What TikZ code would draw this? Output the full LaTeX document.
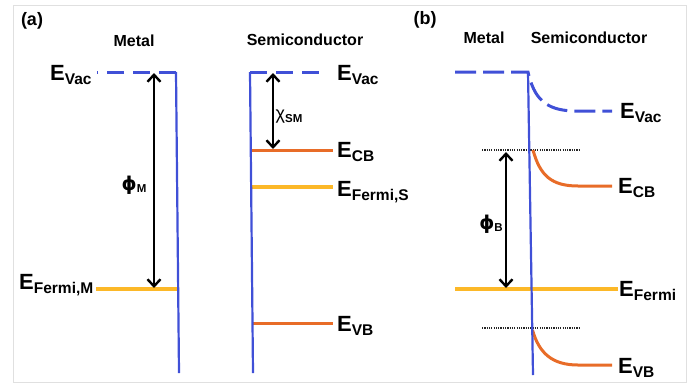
\documentclass[tikz,border=0pt]{standalone}
\usepackage{fontspec}
\setmainfont{Liberation Sans}
\newfontfamily\djv{DejaVu Sans}
\usetikzlibrary{arrows.meta}
\definecolor{vblue}{RGB}{64,80,215}
\definecolor{cbor}{RGB}{232,108,40}
\definecolor{fyel}{RGB}{252,184,40}
\newcommand{\EL}[1]{{\fontsize{22}{22}\selectfont\bfseries E}\raisebox{-4pt}{\fontsize{15.5}{16}\selectfont\bfseries #1}}
\newcommand{\GL}[2]{{\djv\bfseries\fontsize{19}{19}\selectfont #1}\raisebox{-2.5pt}{\fontsize{11.5}{12}\selectfont\bfseries #2}}
\begin{document}
\begin{tikzpicture}[x=1pt,y=-1pt,
  vline/.style={draw=vblue,line width=2.2pt},
  vacline/.style={draw=vblue,line width=3pt,dash pattern=on 17pt off 9pt},
  vacb/.style={draw=vblue,line width=3pt,dash pattern=on 21pt off 7pt},
  cbline/.style={draw=cbor,line width=3pt},
  fline/.style={draw=fyel,line width=3.2pt},
  dotline/.style={draw=black!85,line width=1.8pt,dash pattern=on 1.2pt off 1.1pt},
  dimarrow/.style={draw=black,line width=2.4pt,{Straight Barb[length=7pt,width=13pt]}-{Straight Barb[length=7pt,width=13pt]}},
  elab/.style={anchor=base west,inner sep=0pt},
  head/.style={font=\bfseries\fontsize{16}{16}\selectfont,inner sep=0pt},
  panel/.style={font=\bfseries\fontsize{18}{18}\selectfont,inner sep=0pt}]
\useasboundingbox (0,0) rectangle (690,389);
\draw[black!12,line width=1pt] (13,5) rectangle (686,382);

% ---------- panel (a) ----------
\node[panel] (pa) at (32,21) {(a)};
\node[head] (hm1) at (134,41) {Metal};
\node[head] (hs1) at (305,40) {Semiconductor};

% metal
\coordinate (mvT) at (176,72);
\coordinate (mvB) at (179,373);
\coordinate (mvacL) at (97,72);
\coordinate (mfL) at (96,289);
\coordinate (mfR) at (177.5,289);
\draw[vacline] (mvT) -- (mvacL);
\draw[fline] (mfL) -- (mfR);
\draw[vline] (mvT) -- (mvB);
\coordinate (phiT) at (154,73);
\coordinate (phiB) at (154,288);
\draw[dimarrow] (phiT) -- (phiB);
\node[inner sep=0pt] (phiM) at (134,185) {\GL{ϕ}{M}};
\node[elab] (lvac1) at (50,80) {\EL{Vac}};
\node[elab] (lfm) at (19,289) {\EL{Fermi,M}};

% semiconductor
\coordinate (svT) at (250,72);
\coordinate (svB) at (253,373);
\coordinate (svacR) at (326,72);
\draw[vacline] (svT) -- (svacR);
\coordinate (scbL) at (251,150);
\coordinate (scbR) at (333,150);
\coordinate (sfL) at (251.5,187);
\coordinate (sfR) at (333,187);
\coordinate (svbL) at (252.5,323);
\coordinate (svbR) at (333,323);
\draw[cbline] (scbL) -- (scbR);
\draw[fline] (sfL) -- (sfR);
\draw[cbline] (svbL) -- (svbR);
\draw[vline] (svT) -- (svB);
\coordinate (chiT) at (273,73);
\coordinate (chiB) at (273,149);
\draw[dimarrow] (chiT) -- (chiB);
\node[inner sep=0pt] (chi) at (289,117) {{\fontsize{18}{18}\selectfont χ}\raisebox{-2.5pt}{\fontsize{11.5}{12}\selectfont\bfseries SM}};
\node[elab] (lvac2) at (337,80) {\EL{Vac}};
\node[elab] (lcb1) at (337,157) {\EL{CB}};
\node[elab] (lfs) at (337,196) {\EL{Fermi,S}};
\node[elab] (lvb1) at (337,331) {\EL{VB}};

% ---------- panel (b) ----------
\node[panel] (pb) at (425,20) {(b)};
\node[head] (hm2) at (484,38) {Metal};
\node[head] (hs2) at (589,38) {Semiconductor};

\coordinate (bvT) at (528,72);
\coordinate (bvB) at (533,375);
\coordinate (bvacL) at (455,72);
\coordinate (bvacR) at (612,111);
\draw[vacb] (bvacL) -- (bvT) .. controls (534,98) and (545,110) .. (573,111) -- (bvacR);
\coordinate (d1L) at (482,150);
\coordinate (d1R) at (580,150);
\coordinate (d2L) at (482,328);
\coordinate (d2R) at (580,328);
\draw[dotline] (d1L) -- (d1R);
\draw[dotline] (d2L) -- (d2R);
\coordinate (bcbS) at (533,150);
\coordinate (bcbE) at (612,186);
\draw[cbline] (bcbS) .. controls (540,176) and (552,186) .. (578,186) -- (bcbE);
\coordinate (bvbS) at (532.5,330);
\coordinate (bvbE) at (612,365);
\draw[cbline] (bvbS) .. controls (539,353) and (552,365) .. (578,365) -- (bvbE);
\coordinate (bfL) at (455,289);
\coordinate (bfR) at (618,289);
\draw[fline] (bfL) -- (bfR);
\draw[vline] (bvT) -- (bvB);
\coordinate (pbT) at (506,152);
\coordinate (pbB) at (506,288);
\draw[dimarrow] (pbT) -- (pbB);
\node[inner sep=0pt] (phiB) at (491,224) {\GL{ϕ}{B}};
\node[elab] (lvac3) at (620,118) {\EL{Vac}};
\node[elab] (lcb2) at (618,193) {\EL{CB}};
\node[elab] (lf2) at (619,296) {\EL{Fermi}};
\node[elab] (lvb2) at (618,373) {\EL{VB}};
\end{tikzpicture}
\end{document}
